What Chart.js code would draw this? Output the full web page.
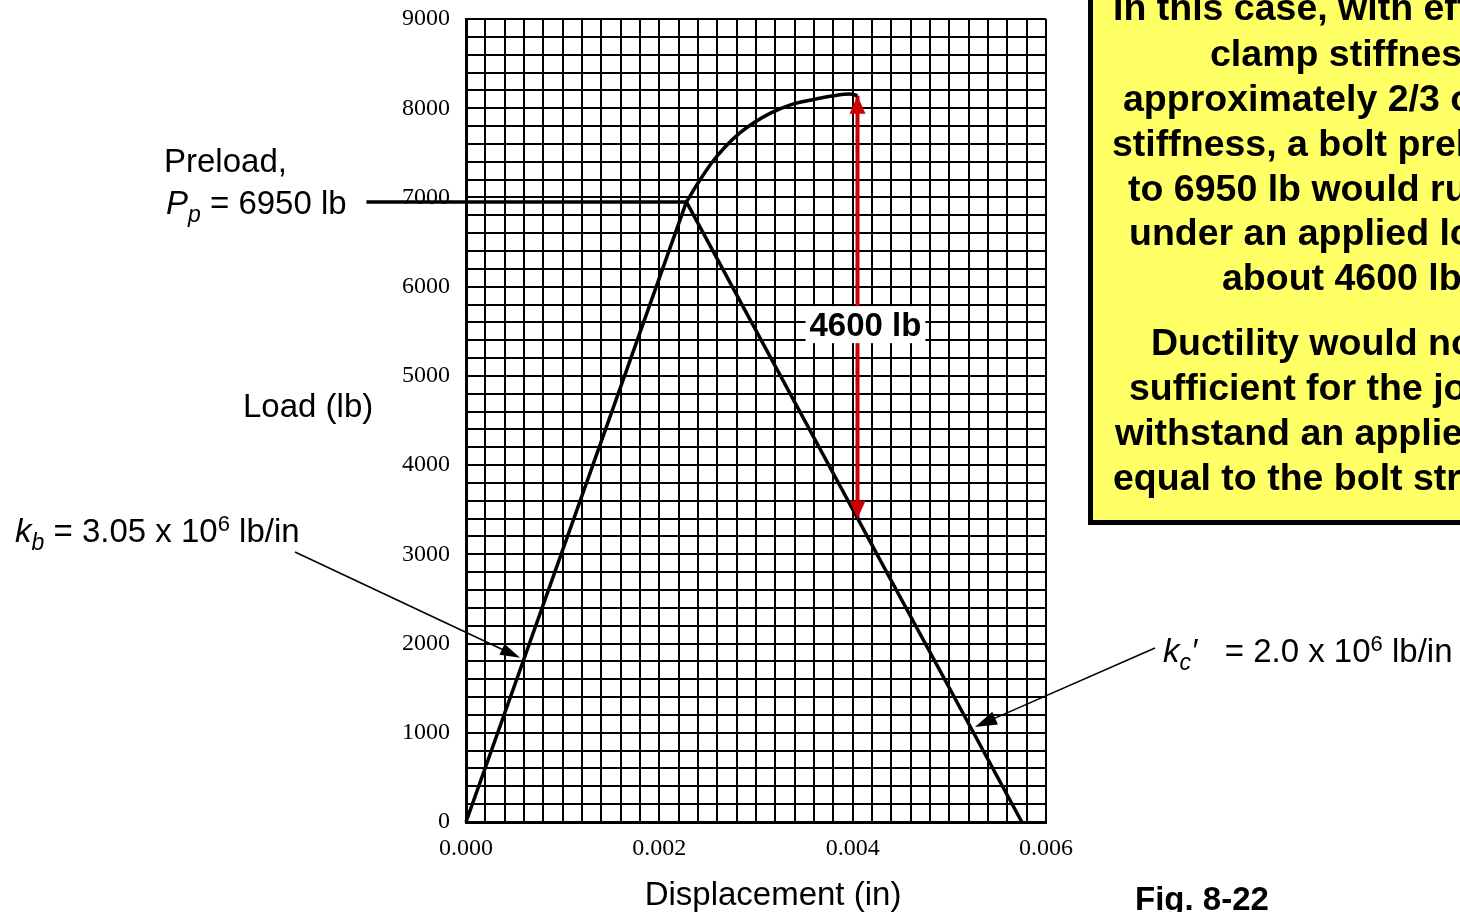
<!DOCTYPE html>
<html>
<head>
<meta charset="utf-8">
<script src="https://cdn.jsdelivr.net/npm/chart.js@4/dist/chart.umd.min.js"></script>
<style>
  html, body { margin: 0; padding: 0; background: #fff; }
  #wrap { width: 1460px; height: 912px; }
</style>
</head>
<body>
<div id="wrap"><canvas id="chart" width="1460" height="912"></canvas></div>
<script>
// bolt load line, straight up to preload
const boltX = [0, 0.00228];
const boltY = [0, 6950];

// bolt yielding beyond preload, up to rupture
const yieldX = [0.00228, 0.00242, 0.00255, 0.00268, 0.00283, 0.00299, 0.00315, 0.00335, 0.00356, 0.0038, 0.00397, 0.00405];
const yieldY = [6950, 7195, 7400, 7565, 7720, 7845, 7945, 8035, 8090, 8140, 8160, 8140];

// clamp (joint) line, unloading from preload
const clampX = [0.00228, 0.00575];
const clampY = [6950, 0];

// preload level, drawn out to the left label
const preloadX = [-0.00103, 0.00228];
const preloadY = [6950, 6950];

// red 4600 lb arrow
const arrowX = [0.00405, 0.00405];
const arrowY = [3400, 8140];

const xTicksMajor = [0, 0.002, 0.004, 0.006];
const yTicksMajor = [0, 1000, 2000, 3000, 4000, 5000, 6000, 7000, 8000, 9000];

const boxLines = [
  'In this case, with effective',
  'clamp stiffness of',
  'approximately 2/3 of bolt',
  'stiffness, a bolt preloaded',
  'to 6950 lb would rupture',
  'under an applied load of',
  'about 4600 lb.',
  'Ductility would not be',
  'sufficient for the joint to',
  'withstand an applied load',
  'equal to the bolt strength.'
];
const boxLineLeft = [1113, 1210, 1123, 1112, 1128, 1129, 1222, 1151, 1129, 1115, 1113];
const boxLineBase = [20, 66, 111, 156, 201, 245, 290, 355, 400, 445, 490];

function pts(xs, ys) {
  return xs.map((x, i) => ({ x: x, y: ys[i] }));
}

function isMajor(v, list) {
  return list.some(m => Math.abs(v - m) < 1e-9);
}

const SANS = '"Liberation Sans", Arial, sans-serif';
const SERIF = '"Liberation Serif", "Times New Roman", serif';

function rich(ctx, x, y, parts) {
  for (const p of parts) {
    ctx.font = p.font;
    ctx.fillText(p.t, x, y + (p.dy || 0));
    x += ctx.measureText(p.t).width;
  }
}

function arrowLine(ctx, x1, y1, x2, y2, head, half) {
  const a = Math.atan2(y2 - y1, x2 - x1);
  ctx.beginPath();
  ctx.moveTo(x1, y1);
  ctx.lineTo(x2 - Math.cos(a) * head * 0.8, y2 - Math.sin(a) * head * 0.8);
  ctx.stroke();
  ctx.beginPath();
  ctx.moveTo(x2, y2);
  ctx.lineTo(x2 - Math.cos(a) * head - Math.sin(a) * half, y2 - Math.sin(a) * head + Math.cos(a) * half);
  ctx.lineTo(x2 - Math.cos(a) * head + Math.sin(a) * half, y2 - Math.sin(a) * head - Math.cos(a) * half);
  ctx.closePath();
  ctx.fill();
}

const annotations = {
  id: 'annotations',
  afterDatasetsDraw(chart) {
    const ctx = chart.ctx;
    const xs = chart.scales.x, ys = chart.scales.y;
    const ax = xs.getPixelForValue(arrowX[0]);
    const top = ys.getPixelForValue(arrowY[1]);
    const bot = ys.getPixelForValue(arrowY[0]);
    ctx.save();
    ctx.fillStyle = 'rgb(204,0,0)';
    // arrow heads
    ctx.beginPath();
    ctx.moveTo(ax, top); ctx.lineTo(ax - 8, top + 18); ctx.lineTo(ax + 8, top + 18); ctx.closePath(); ctx.fill();
    ctx.beginPath();
    ctx.moveTo(ax, bot); ctx.lineTo(ax - 8, bot - 18); ctx.lineTo(ax + 8, bot - 18); ctx.closePath(); ctx.fill();

    // 4600 lb label on white
    ctx.font = 'bold 33px ' + SANS;
    const lbl = '4600 lb';
    const w = ctx.measureText(lbl).width;
    const cy = ys.getPixelForValue(5580);
    ctx.fillStyle = '#fff';
    ctx.fillRect(ax - 52, cy - 18, w + 8, 37);
    ctx.fillStyle = '#000';
    ctx.textBaseline = 'alphabetic';
    ctx.fillText(lbl, ax - 48, cy + 12);
    ctx.restore();
  },
  afterDraw(chart) {
    const ctx = chart.ctx;
    const xs = chart.scales.x, ys = chart.scales.y;
    ctx.save();
    ctx.fillStyle = '#000';
    ctx.strokeStyle = '#000';
    ctx.textBaseline = 'alphabetic';
    ctx.textAlign = 'left';

    // axis titles
    ctx.font = '33px ' + SANS;
    ctx.fillText('Load (lb)', 243, 417);
    ctx.textAlign = 'center';
    ctx.fillText('Displacement (in)', 773, 905);
    ctx.textAlign = 'left';

    // preload label
    ctx.font = '33px ' + SANS;
    ctx.fillText('Preload,', 164, 172);
    rich(ctx, 166, 214, [
      { t: 'P', font: 'italic 33px ' + SANS },
      { t: 'p', font: 'italic 23px ' + SANS, dy: 8 },
      { t: ' = 6950 lb', font: '33px ' + SANS }
    ]);

    // bolt stiffness label + arrow
    rich(ctx, 15, 542, [
      { t: 'k', font: 'italic 33px ' + SANS },
      { t: 'b', font: 'italic 23px ' + SANS, dy: 8 },
      { t: ' = 3.05 x 10', font: '33px ' + SANS },
      { t: '6', font: '22px ' + SANS, dy: -11 },
      { t: ' lb/in', font: '33px ' + SANS }
    ]);
    ctx.lineWidth = 1.5;
    arrowLine(ctx, 295, 552, xs.getPixelForValue(0.00056), ys.getPixelForValue(1840), 20, 6);

    // clamp stiffness label + arrow
    rich(ctx, 1163, 662, [
      { t: 'k', font: 'italic 33px ' + SANS },
      { t: 'c', font: 'italic 23px ' + SANS, dy: 8 },
      { t: '\u2032', font: 'italic 33px ' + SANS },
      { t: '   = 2.0 x 10', font: '33px ' + SANS },
      { t: '6', font: '22px ' + SANS, dy: -11 },
      { t: ' lb/in', font: '33px ' + SANS }
    ]);
    arrowLine(ctx, 1155, 648, xs.getPixelForValue(0.005265), ys.getPixelForValue(1065), 22, 7);

    // yellow note box
    ctx.fillStyle = 'rgb(255,255,102)';
    ctx.fillRect(1090, -10, 400, 532);
    ctx.lineWidth = 5;
    ctx.strokeRect(1090.5, -10, 400, 532.5);
    ctx.fillStyle = '#000';
    ctx.font = 'bold 37.5px ' + SANS;
    boxLines.forEach((t, i) => ctx.fillText(t, boxLineLeft[i], boxLineBase[i]));

    // figure number
    ctx.font = 'bold 33px ' + SANS;
    ctx.fillText('Fig. 8-22', 1135, 910);
    ctx.restore();
  }
};

const lineStyle = {
  showLine: true,
  pointRadius: 0,
  borderColor: '#000',
  borderWidth: 3.5,
  fill: false,
  clip: false
};

new Chart(document.getElementById('chart'), {
  type: 'scatter',
  data: {
    datasets: [
      Object.assign({}, lineStyle, { label: 'bolt', data: pts(boltX, boltY) }),
      Object.assign({}, lineStyle, { label: 'yield', data: pts(yieldX, yieldY), cubicInterpolationMode: 'monotone' }),
      Object.assign({}, lineStyle, { label: 'clamp', data: pts(clampX, clampY) }),
      Object.assign({}, lineStyle, { label: 'preload', data: pts(preloadX, preloadY) }),
      Object.assign({}, lineStyle, { label: 'arrow', data: pts(arrowX, arrowY), borderColor: 'rgb(204,0,0)', borderWidth: 4 })
    ]
  },
  options: {
    responsive: false,
    animation: false,
    layout: { padding: { left: 0, right: 414, top: 19, bottom: 0 } },
    plugins: {
      legend: { display: false },
      tooltip: { enabled: false }
    },
    scales: {
      x: {
        type: 'linear',
        min: 0,
        max: 0.006,
        afterFit: s => { s.height = 90; s.paddingLeft = 0; s.paddingRight = 0; },
        grid: { color: '#000', lineWidth: 2, drawTicks: false },
        border: { color: '#000', width: 3 },
        ticks: {
          stepSize: 0.0002,
          autoSkip: false,
          maxRotation: 0,
          padding: 12,
          color: '#000',
          font: { family: SERIF, size: 24 },
          callback: v => isMajor(v, xTicksMajor) ? v.toFixed(3) : ''
        }
      },
      y: {
        min: 0,
        max: 9000,
        afterFit: s => { s.width = 466; s.paddingTop = 0; s.paddingBottom = 0; },
        grid: { color: '#000', lineWidth: 2, drawTicks: false },
        border: { color: '#000', width: 3 },
        ticks: {
          stepSize: 200,
          autoSkip: false,
          padding: 16,
          color: '#000',
          font: { family: SERIF, size: 24 },
          callback: v => isMajor(v, yTicksMajor) ? String(v) : ''
        }
      }
    }
  },
  plugins: [annotations]
});
</script>
</body>
</html>
